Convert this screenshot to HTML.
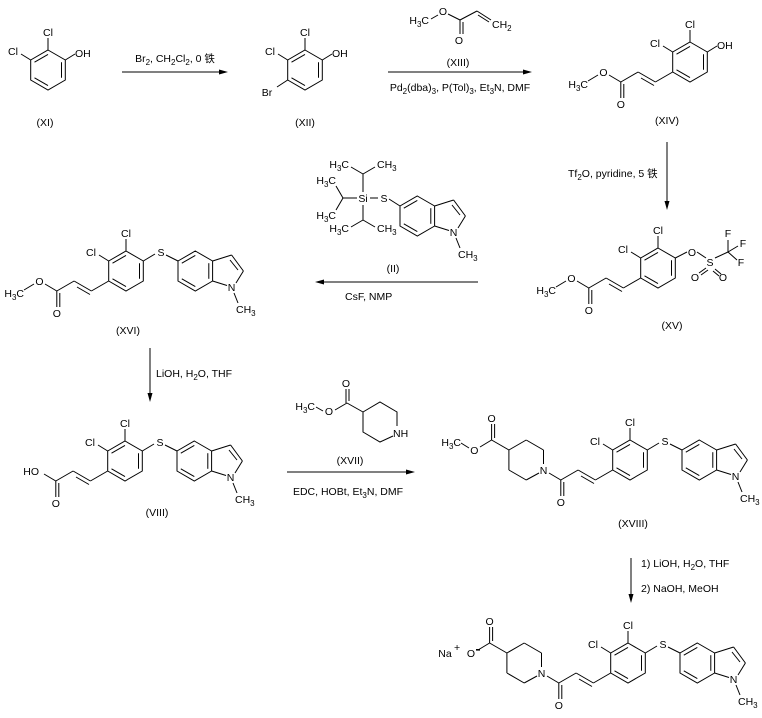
<!DOCTYPE html>
<html><head><meta charset="utf-8">
<style>
html,body{margin:0;padding:0;background:#fff;}
svg{display:block;}
text{font-family:"Liberation Sans","Noto Sans CJK SC",sans-serif;font-size:10.5px;fill:#000;}
line,polyline,polygon.r{stroke:#000;stroke-width:1;fill:none;}
</style></head>
<body>
<svg width="762" height="718" viewBox="0 0 762 718" xmlns="http://www.w3.org/2000/svg">
<defs>
<g id="bz">
<polygon class="r" points="0,-20 17.3,-10 17.3,10 0,20 -17.3,10 -17.3,-10"/>
<line x1="-13.5" y1="-7.8" x2="0" y2="-15.6"/>
<line x1="13.5" y1="-7.8" x2="13.5" y2="7.8"/>
<line x1="0" y1="15.6" x2="-13.5" y2="7.8"/>
</g>
<g id="dicl">
<use href="#bz"/>
<line x1="0" y1="-20" x2="0" y2="-32"/>
<text x="0" y="-34" text-anchor="middle">Cl</text>
<line x1="-17.3" y1="-10" x2="-27" y2="-16"/>
<text x="-35" y="-15" text-anchor="middle">Cl</text>
</g>
<g id="acryl">
<line x1="-17.3" y1="10" x2="-34.6" y2="20"/>
<line x1="-34.6" y1="20" x2="-51.9" y2="10"/>
<line x1="-36" y1="23.5" x2="-49" y2="16"/>
<line x1="-51.9" y1="10" x2="-69.2" y2="20"/>
<line x1="-69.2" y1="20" x2="-69.2" y2="36"/>
<line x1="-66.2" y1="22" x2="-66.2" y2="36"/>
<text x="-69.2" y="46" text-anchor="middle">O</text>
<line x1="-69.2" y1="20" x2="-81" y2="13"/>
</g>
<g id="ester">
<text x="-86.5" y="14" text-anchor="middle">O</text>
<line x1="-92" y1="13" x2="-102" y2="19"/>
<text x="-102" y="26" text-anchor="end">H<tspan font-size="8" dy="3">3</tspan><tspan dy="-3">C</tspan></text>
</g>
<g id="sind">
<line x1="17.3" y1="-10" x2="29" y2="-17"/>
<text x="35" y="-15" text-anchor="middle">S</text>
<line x1="40" y1="-16" x2="52" y2="-10"/>
<use href="#bz" x="69.3"/>
<line x1="86.6" y1="-10" x2="105.6" y2="-16"/>
<line x1="105.6" y1="-16" x2="117.4" y2="0"/>
<line x1="104" y1="-11" x2="112" y2="-1"/>
<line x1="117.4" y1="0" x2="110" y2="12"/>
<line x1="101" y1="14.5" x2="86.6" y2="10"/>
<text x="105.6" y="20" text-anchor="middle">N</text>
<line x1="108" y1="22" x2="112" y2="32"/>
<text x="110" y="42">CH<tspan font-size="8" dy="3">3</tspan></text>
</g>
<g id="pip">
<text x="-86.5" y="14" text-anchor="middle">N</text>
<line x1="-86.5" y1="4" x2="-86.5" y2="-10"/>
<line x1="-86.5" y1="-10" x2="-103.8" y2="-20"/>
<line x1="-103.8" y1="-20" x2="-121.1" y2="-10"/>
<line x1="-121.1" y1="-10" x2="-121.1" y2="10"/>
<line x1="-121.1" y1="10" x2="-103.8" y2="20"/>
<line x1="-103.8" y1="20" x2="-91" y2="13"/>
<line x1="-121.1" y1="-10" x2="-138.4" y2="-20"/>
<line x1="-138.4" y1="-20" x2="-138.4" y2="-36"/>
<line x1="-135.4" y1="-22" x2="-135.4" y2="-36"/>
<text x="-138.4" y="-38" text-anchor="middle">O</text>
<line x1="-138.4" y1="-20" x2="-150" y2="-13"/>
</g>
</defs>

<g transform="translate(48,70)">
<use href="#dicl"/>
<line x1="17.3" y1="-10" x2="27" y2="-16"/>
<text x="27" y="-13">OH</text>
</g>
<text x="45" y="126" text-anchor="middle">(XI)</text>

<line x1="122" y1="72" x2="224" y2="72"/>
<polygon points="228,72 219,69.5 219,74.5" fill="#000"/>
<text x="175" y="62" text-anchor="middle">Br<tspan font-size="8" dy="3">2</tspan><tspan dy="-3">, CH</tspan><tspan font-size="8" dy="3">2</tspan><tspan dy="-3">Cl</tspan><tspan font-size="8" dy="3">2</tspan><tspan dy="-3">, 0 铁</tspan></text>

<g transform="translate(305,70)">
<use href="#dicl"/>
<line x1="17.3" y1="-10" x2="27" y2="-16"/>
<text x="27" y="-13">OH</text>
<line x1="-17.3" y1="10" x2="-28" y2="17"/>
<text x="-38" y="26" text-anchor="middle">Br</text>
</g>
<text x="305" y="126" text-anchor="middle">(XII)</text>

<text x="429" y="24" text-anchor="end">H<tspan font-size="8" dy="3">3</tspan><tspan dy="-3">C</tspan></text>
<line x1="431" y1="19" x2="438" y2="15"/>
<text x="443" y="15" text-anchor="middle">O</text>
<line x1="448" y1="14" x2="460" y2="20"/>
<line x1="460" y1="20" x2="460" y2="34"/>
<line x1="463" y1="22" x2="463" y2="34"/>
<text x="459" y="44" text-anchor="middle">O</text>
<line x1="460" y1="20" x2="477" y2="11"/>
<line x1="477" y1="11" x2="491" y2="20"/>
<line x1="478" y1="15" x2="489" y2="22"/>
<text x="492" y="28">CH<tspan font-size="8" dy="3">2</tspan></text>
<text x="458" y="66" text-anchor="middle">(XIII)</text>

<line x1="388" y1="72" x2="528" y2="72"/>
<polygon points="532,72 523,69.5 523,74.5" fill="#000"/>
<text x="460" y="91" text-anchor="middle">Pd<tspan font-size="8" dy="3">2</tspan><tspan dy="-3">(dba)</tspan><tspan font-size="8" dy="3">3</tspan><tspan dy="-3">, P(Tol)</tspan><tspan font-size="8" dy="3">3</tspan><tspan dy="-3">, Et</tspan><tspan font-size="8" dy="3">3</tspan><tspan dy="-3">N, DMF</tspan></text>

<g transform="translate(690,62)">
<use href="#dicl"/>
<line x1="17.3" y1="-10" x2="27" y2="-16"/>
<text x="27" y="-13">OH</text>
<use href="#acryl"/>
<use href="#ester"/>
</g>
<text x="667" y="124" text-anchor="middle">(XIV)</text>

<line x1="667" y1="142" x2="667" y2="205"/>
<polygon points="667,210 664.5,201 669.5,201" fill="#000"/>
<text x="568" y="177">Tf<tspan font-size="8" dy="3">2</tspan><tspan dy="-3">O, pyridine, 5 铁</tspan></text>

<g transform="translate(658,268)">
<use href="#dicl"/>
<use href="#acryl"/>
<use href="#ester"/>
<line x1="17.3" y1="-10" x2="29" y2="-16"/>
<text x="34" y="-12" text-anchor="middle">O</text>
<line x1="39" y1="-16" x2="48" y2="-10"/>
<text x="52" y="-2" text-anchor="middle">S</text>
<line x1="48" y1="0" x2="41" y2="5"/>
<line x1="50" y1="2" x2="43" y2="7"/>
<text x="37" y="13" text-anchor="middle">O</text>
<line x1="57" y1="1" x2="63" y2="6"/>
<line x1="55" y1="3" x2="61" y2="8"/>
<text x="65" y="13" text-anchor="middle">O</text>
<line x1="57" y1="-10" x2="70" y2="-16"/>
<line x1="70" y1="-16" x2="70" y2="-28"/>
<text x="70" y="-31" text-anchor="middle">F</text>
<line x1="70" y1="-16" x2="80" y2="-22"/>
<text x="85" y="-21" text-anchor="middle">F</text>
<line x1="70" y1="-16" x2="79" y2="-8"/>
<text x="83" y="-2" text-anchor="middle">F</text>
</g>
<text x="672" y="329" text-anchor="middle">(XV)</text>

<g>
<text x="363" y="202" text-anchor="middle">Si</text>
<line x1="370" y1="198" x2="378" y2="198"/>
<text x="384" y="202" text-anchor="middle">S</text>
<line x1="389" y1="199" x2="400" y2="206"/>
<g transform="translate(417.3,216)"><use href="#bz"/>
<line x1="17.3" y1="-10" x2="36.3" y2="-16"/>
<line x1="36.3" y1="-16" x2="48.1" y2="0"/>
<line x1="34.7" y1="-11" x2="42.7" y2="-1"/>
<line x1="48.1" y1="0" x2="40.7" y2="12"/>
<line x1="31.7" y1="14.5" x2="17.3" y2="10"/>
<text x="36.3" y="20" text-anchor="middle">N</text>
<line x1="38.7" y1="22" x2="42.7" y2="32"/>
<text x="40.7" y="42">CH<tspan font-size="8" dy="3">3</tspan></text>
</g>
<line x1="363" y1="192" x2="363" y2="174"/>
<line x1="363" y1="174" x2="351" y2="167"/>
<line x1="363" y1="174" x2="375" y2="167"/>
<text x="349" y="168" text-anchor="end">H<tspan font-size="8" dy="3">3</tspan><tspan dy="-3">C</tspan></text>
<text x="377" y="168">CH<tspan font-size="8" dy="3">3</tspan></text>
<line x1="357" y1="198" x2="343" y2="198"/>
<line x1="343" y1="198" x2="336" y2="186"/>
<line x1="343" y1="198" x2="336" y2="210"/>
<text x="336" y="184" text-anchor="end">H<tspan font-size="8" dy="3">3</tspan><tspan dy="-3">C</tspan></text>
<text x="336" y="219" text-anchor="end">H<tspan font-size="8" dy="3">3</tspan><tspan dy="-3">C</tspan></text>
<line x1="363" y1="205" x2="363" y2="220"/>
<line x1="363" y1="220" x2="351" y2="227"/>
<line x1="363" y1="220" x2="375" y2="227"/>
<text x="349" y="232" text-anchor="end">H<tspan font-size="8" dy="3">3</tspan><tspan dy="-3">C</tspan></text>
<text x="377" y="232">CH<tspan font-size="8" dy="3">3</tspan></text>
</g>
<text x="393" y="272" text-anchor="middle">(II)</text>

<line x1="478" y1="282" x2="319" y2="282"/>
<polygon points="315,282 324,279.5 324,284.5" fill="#000"/>
<text x="345" y="300">CsF, NMP</text>

<g transform="translate(126,271)">
<use href="#dicl"/><use href="#acryl"/><use href="#ester"/><use href="#sind"/>
</g>
<text x="128" y="334" text-anchor="middle">(XVI)</text>

<line x1="150" y1="348" x2="150" y2="397"/>
<polygon points="150,402 147.5,393 152.5,393" fill="#000"/>
<text x="156" y="377">LiOH, H<tspan font-size="8" dy="3">2</tspan><tspan dy="-3">O, THF</tspan></text>

<g transform="translate(125,461)">
<use href="#dicl"/><use href="#acryl"/><use href="#sind"/>
<text x="-86" y="14" text-anchor="end">HO</text>
</g>
<text x="157" y="516" text-anchor="middle">(VIII)</text>

<text x="346" y="387" text-anchor="middle">O</text>
<line x1="346" y1="389" x2="346" y2="403"/>
<line x1="349" y1="389" x2="349" y2="401"/>
<line x1="347" y1="403" x2="335" y2="410"/>
<text x="329" y="415" text-anchor="middle">O</text>
<line x1="323" y1="411" x2="316" y2="407"/>
<text x="315" y="410" text-anchor="end">H<tspan font-size="8" dy="3">3</tspan><tspan dy="-3">C</tspan></text>
<line x1="347" y1="403" x2="363" y2="412"/>
<polyline points="363,412 380,402 397,412 397,426"/>
<polyline points="393,436 380,442 363,432 363,412"/>
<text x="393" y="437">NH</text>
<text x="350" y="464" text-anchor="middle">(XVII)</text>

<line x1="287" y1="472" x2="411" y2="472"/>
<polygon points="415,472 406,469.5 406,474.5" fill="#000"/>
<text x="348" y="495" text-anchor="middle">EDC, HOBt, Et<tspan font-size="8" dy="3">3</tspan><tspan dy="-3">N, DMF</tspan></text>

<g transform="translate(630,460)">
<use href="#dicl"/><use href="#acryl"/><use href="#pip"/><use href="#sind"/>
<text x="-155.7" y="-6" text-anchor="middle">O</text>
<line x1="-161" y1="-12" x2="-169" y2="-17"/>
<text x="-169" y="-14" text-anchor="end">H<tspan font-size="8" dy="3">3</tspan><tspan dy="-3">C</tspan></text>
</g>
<text x="633" y="527" text-anchor="middle">(XVIII)</text>

<line x1="631" y1="558" x2="631" y2="598"/>
<polygon points="631,603 628.5,594 633.5,594" fill="#000"/>
<text x="641" y="567">1) LiOH, H<tspan font-size="8" dy="3">2</tspan><tspan dy="-3">O, THF</tspan></text>
<text x="641" y="592">2) NaOH, MeOH</text>

<g transform="translate(628,663)">
<use href="#dicl"/><use href="#acryl"/><use href="#pip"/><use href="#sind"/>
<text x="-157" y="-6" text-anchor="middle">O</text>
<rect x="-152" y="-14" width="4" height="1.6" fill="#000"/>
<text x="-183" y="-6" text-anchor="middle">Na</text>
<text x="-174" y="-12" font-size="7">+</text>
</g>
</svg>
</body></html>
